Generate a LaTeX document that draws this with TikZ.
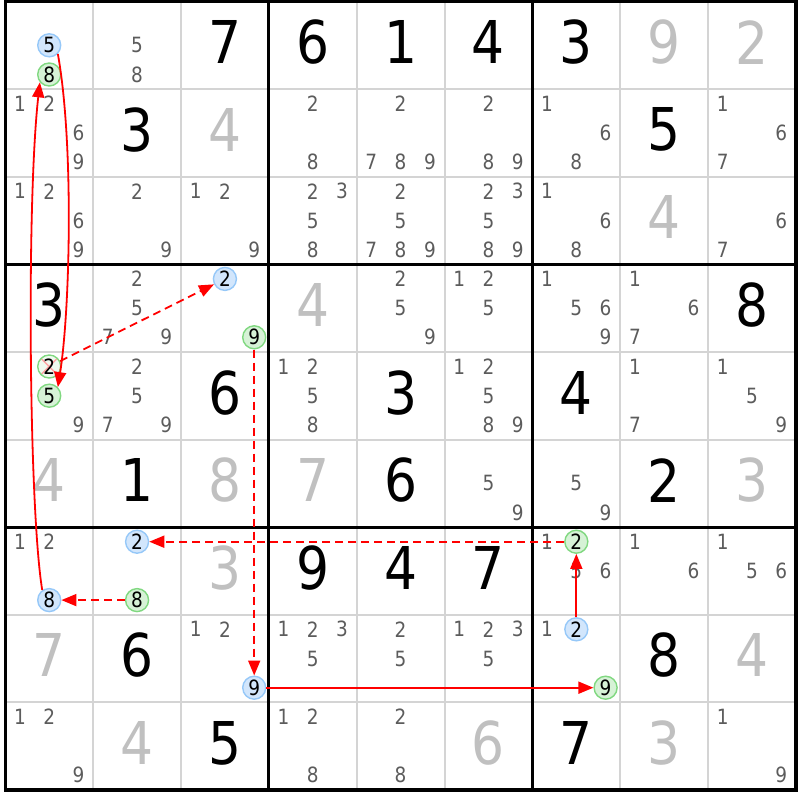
\documentclass[tikz,border=0pt]{standalone}
\usepackage{fontspec}
\setmainfont{DejaVu Sans}[FakeStretch=0.88]
\usetikzlibrary{arrows.meta}

\definecolor{givengray}{HTML}{C0C0C0}
\definecolor{candgray}{HTML}{5C5C5C}
\definecolor{gridgray}{HTML}{D4D4D4}
\definecolor{onfill}{HTML}{D2E6FC}
\definecolor{onedge}{HTML}{96C8F8}
\definecolor{offfill}{HTML}{D6F2D6}
\definecolor{offedge}{HTML}{80D880}

\tikzset{
	solved/.style={font=\fontsize{59}{59}\selectfont, text=black, inner sep=0pt},
	given/.style={solved, text=givengray},
	cand/.style={font=\fontsize{21}{21}\selectfont, text=candgray, inner sep=0pt},
	oncand/.style={circle, draw=onedge, fill=onfill, line width=1.4pt, minimum size=23pt, inner sep=0pt, font=\fontsize{21}{21}\selectfont},
	offcand/.style={oncand, draw=offedge, fill=offfill},
	struck/.style={fill=offfill!40, path picture={\draw[red!35, line width=1.4pt] (path picture bounding box.north west) -- (path picture bounding box.south east) (path picture bounding box.north east) -- (path picture bounding box.south west);}},
	stronglink/.style={draw=red, line width=1.8pt, -{Triangle[length=15pt,width=12pt]}},
	weaklink/.style={stronglink, dash pattern=on 8pt off 5pt},
}

\begin{document}
\begin{tikzpicture}[x=87.85pt, y=-87.6pt]
	\useasboundingbox (-0.0603,-0.0171) rectangle (9.0461,9.1153);
	
	% grid
	\foreach \i in {1,2,4,5,7,8} {
		\draw[gridgray, line width=2pt] (\i,0) -- (\i,9);
		\draw[gridgray, line width=2pt] (0,\i) -- (9,\i);
	}
	\foreach \i in {3,6} {
		\draw[line width=3pt] (\i,0) -- (\i,9);
		\draw[line width=3pt] (0,\i) -- (9,\i);
	}
	\draw[line width=3.5pt] (0,0) rectangle (9,9);
	
	% big digits
	\foreach \c/\r/\d in {3/1/7, 4/1/6, 5/1/1, 6/1/4, 7/1/3, 2/2/3, 8/2/5, 1/4/3, 9/4/8,
		3/5/6, 5/5/3, 7/5/4, 2/6/1, 5/6/6, 8/6/2, 4/7/9, 5/7/4, 6/7/7, 2/8/6, 8/8/8, 3/9/5, 7/9/7}
		\node[solved] at ({\c-0.5},{\r-0.535}) {\d};
	\foreach \c/\r/\d in {8/1/9, 9/1/2, 3/2/4, 8/3/4, 4/4/4, 1/6/4, 3/6/8, 4/6/7, 9/6/3,
		3/7/3, 1/8/7, 9/8/4, 2/9/4, 6/9/6, 8/9/3}
		\node[given] at ({\c-0.5},{\r-0.535}) {\d};
	
	% candidates
	\foreach \c/\r/\ds in {2/1/{5,8},
		1/2/{1,2,6,9}, 4/2/{2,8}, 5/2/{2,7,8,9}, 6/2/{2,8,9}, 7/2/{1,6,8}, 9/2/{1,6,7},
		1/3/{1,2,6,9}, 2/3/{2,9}, 3/3/{1,2,9}, 4/3/{2,3,5,8}, 5/3/{2,5,7,8,9}, 6/3/{2,3,5,8,9}, 7/3/{1,6,8}, 9/3/{6,7},
		2/4/{2,5,7,9}, 5/4/{2,5,9}, 6/4/{1,2,5}, 7/4/{1,5,6,9}, 8/4/{1,6,7},
		1/5/{9}, 2/5/{2,5,7,9}, 4/5/{1,2,5,8}, 6/5/{1,2,5,8,9}, 8/5/{1,7}, 9/5/{1,5,9},
		6/6/{5,9}, 7/6/{5,9},
		1/7/{1,2}, 7/7/{1,5,6}, 8/7/{1,6}, 9/7/{1,5,6},
		3/8/{1,2}, 4/8/{1,2,3,5}, 5/8/{2,5}, 6/8/{1,2,3,5}, 7/8/{1},
		1/9/{1,2,9}, 4/9/{1,2,8}, 5/9/{2,8}, 9/9/{1,9}}
		\foreach \d in \ds
			\node[cand] at ({\c-1+(2*mod(\d-1,3)+1)/6},{\r-1+(2*floor((\d-1)/3)+1)/6}) {\d};
	
	% chain
	\node[oncand] (r1c1n5) at (0.5, 0.5) {5};
	\node[offcand] (r1c1n8) at (0.5, 0.8333) {8};
	\node[oncand] (r4c3n2) at (2.5, 3.1667) {2};
	\node[offcand] (r4c3n9) at (2.8333, 3.8333) {9};
	\node[offcand, struck] (r5c1n2) at (0.5, 4.1667) {2};
	\node[offcand] (r5c1n5) at (0.5, 4.5) {5};
	\node[oncand] (r7c1n8) at (0.5, 6.8333) {8};
	\node[oncand] (r7c2n2) at (1.5, 6.1667) {2};
	\node[offcand] (r7c2n8) at (1.5, 6.8333) {8};
	\node[offcand] (r7c7n2) at (6.5, 6.1667) {2};
	\node[oncand] (r8c3n9) at (2.8333, 7.8333) {9};
	\node[oncand] (r8c7n2) at (6.5, 7.1667) {2};
	\node[offcand] (r8c7n9) at (6.8333, 7.8333) {9};
	
	\draw[stronglink] (r1c1n5.-45) .. controls (0.78,1.6) and (0.74,3.5) .. (r5c1n5.45);
	\draw[stronglink] (r7c1n8.125) .. controls (0.27,5.8) and (0.24,2.3) .. (r1c1n8.-140);
	\draw[weaklink] (r5c1n2) -- (r4c3n2);
	\draw[weaklink] (r4c3n9) -- (r8c3n9);
	\draw[weaklink] (r7c7n2) -- (r7c2n2);
	\draw[weaklink] (r7c2n8) -- (r7c1n8);
	\draw[stronglink] (r8c3n9) -- (r8c7n9);
	\draw[stronglink] (r8c7n2) -- (r7c7n2);
\end{tikzpicture}
\end{document}
